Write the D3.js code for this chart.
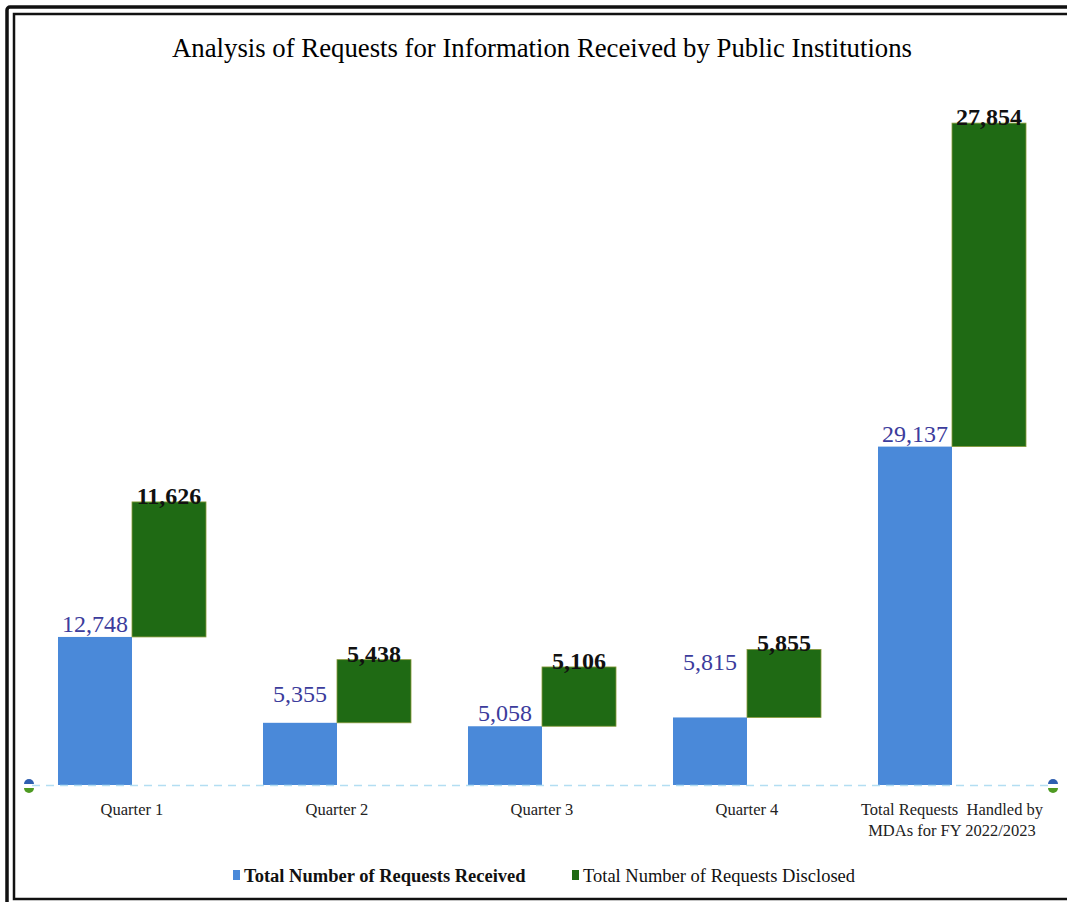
<!DOCTYPE html>
<html>
<head>
<meta charset="utf-8">
<script src="https://cdn.jsdelivr.net/npm/d3@7"></script>
<style>
  body { margin: 0; background: #fff; }
  svg { display: block; font-family: "Liberation Serif", "Times New Roman", serif; }
</style>
</head>
<body>
<svg id="chart" width="1067" height="902"></svg>
<script>
// chart values
const categories = ["Quarter 1", "Quarter 2", "Quarter 3", "Quarter 4", "Total Requests  Handled by|MDAs for FY 2022/2023"];
const received = [12748, 5355, 5058, 5815, 29137];
const disclosed = [11626, 5438, 5106, 5855, 27854];
const seriesNames = ["Total Number of Requests Received", "Total Number of Requests Disclosed"];

const blue = "#4a89d9", green = "#1f6a14", labelBlue = "#3c3c9c";

const svg = d3.select("#chart");

// double frame
svg.append("rect").attr("x", 7).attr("y", 7).attr("width", 1075).attr("height", 905)
  .attr("fill", "none").attr("stroke", "#111").attr("stroke-width", 3.5).attr("rx", 3);
svg.append("rect").attr("x", 14).attr("y", 14).attr("width", 1070).attr("height", 885)
  .attr("fill", "none").attr("stroke", "#111").attr("stroke-width", 2.5);

svg.append("text")
  .attr("x", 542).attr("y", 57)
  .attr("text-anchor", "middle")
  .attr("textLength", 740)
  .attr("lengthAdjust", "spacingAndGlyphs")
  .style("font-size", "27px")
  .text("Analysis of Requests for Information Received by Public Institutions");

const data = categories.map((c, i) => ({ cat: c, rec: received[i], dis: disclosed[i] }));

const x = d3.scaleBand().domain(categories).range([29.5, 1054.5])
  .paddingInner(0.278).paddingOuter(0.139);
const sub = d3.scaleBand().domain(["rec", "dis"]).range([0, x.bandwidth()]);
const y = d3.scaleLinear().domain([0, 57000]).range([785, 123]);

// small lift for a couple of the blue labels, as in the original
const blueLabelLift = { "Quarter 2": 16, "Quarter 4": 42 };

const g = svg.append("g");

// received bars
g.selectAll(".rec")
  .data(data)
  .enter().append("rect")
  .attr("class", "rec")
  .attr("x", d => x(d.cat) + sub("rec"))
  .attr("y", d => y(d.rec))
  .attr("width", sub.bandwidth())
  .attr("height", d => y(0) - y(d.rec))
  .attr("fill", blue);

// disclosed bars sit on top of the received level
g.selectAll(".dis")
  .data(data)
  .enter().append("rect")
  .attr("class", "dis")
  .attr("x", d => x(d.cat) + sub("dis"))
  .attr("y", d => y(d.rec + d.dis))
  .attr("width", sub.bandwidth())
  .attr("height", d => y(d.rec) - y(d.rec + d.dis))
  .attr("fill", green)
  .attr("stroke", "#8a9a3a").attr("stroke-width", 0.8);

// baseline dashed
svg.append("line")
  .attr("x1", 32).attr("x2", 1052)
  .attr("y1", y(0) + 0.5).attr("y2", y(0) + 0.5)
  .attr("stroke", "#b3def2").attr("stroke-width", 1.5)
  .attr("stroke-dasharray", "8,6");

// end markers
[29, 1053].forEach(cx => {
  const m = svg.append("g").attr("transform", `translate(${cx},${y(0)})`);
  m.append("path").attr("d", "M-5,-1 A5,5 0 0 1 5,-1 Z").attr("fill", "#2f5fb0");
  m.append("path").attr("d", "M-5,3 A5,5 0 0 0 5,3 Z").attr("fill", "#4e9a22");
});

const fmt = d3.format(",");

g.selectAll(".recLabel")
  .data(data)
  .enter().append("text")
  .attr("class", "recLabel")
  .attr("x", d => x(d.cat) + sub("rec") + sub.bandwidth() / 2)
  .attr("y", d => y(d.rec) - 5 - (blueLabelLift[d.cat] || 0))
  .attr("text-anchor", "middle")
  .attr("fill", labelBlue)
  .style("font-size", "24px")
  .text(d => fmt(d.rec));

g.selectAll(".disLabel")
  .data(data)
  .enter().append("text")
  .attr("class", "disLabel")
  .attr("x", d => x(d.cat) + sub("dis") + sub.bandwidth() / 2)
  .attr("y", d => y(d.rec + d.dis) + 2)
  .attr("text-anchor", "middle")
  .attr("fill", "#111")
  .style("font-size", "24px")
  .style("font-weight", "bold")
  .text(d => fmt(d.dis));

// category labels
const xAxis = svg.append("g");
data.forEach(d => {
  const lines = d.cat.split("|");
  const t = xAxis.append("text")
    .attr("x", x(d.cat) + x.bandwidth() / 2)
    .attr("y", 815)
    .attr("text-anchor", "middle")
    .attr("fill", "#222")
    .style("font-size", "16.5px")
    .style("white-space", "pre");
  lines.forEach((l, i) => {
    t.append("tspan").attr("x", x(d.cat) + x.bandwidth() / 2)
      .attr("dy", i === 0 ? 0 : 21).text(l);
  });
});

// legend
const legend = svg.append("g");
const legItems = [
  { name: seriesNames[0], color: blue, x: 233, bold: true },
  { name: seriesNames[1], color: green, x: 572, bold: false }
];
legItems.forEach(it => {
  legend.append("rect").attr("x", it.x).attr("y", 870).attr("width", 7).attr("height", 10).attr("fill", it.color);
  legend.append("text").attr("x", it.x + 11).attr("y", 882)
    .style("font-size", "18.5px")
    .style("font-weight", it.bold ? "bold" : "normal")
    .attr("fill", "#111")
    .text(it.name);
});
</script>
</body>
</html>
